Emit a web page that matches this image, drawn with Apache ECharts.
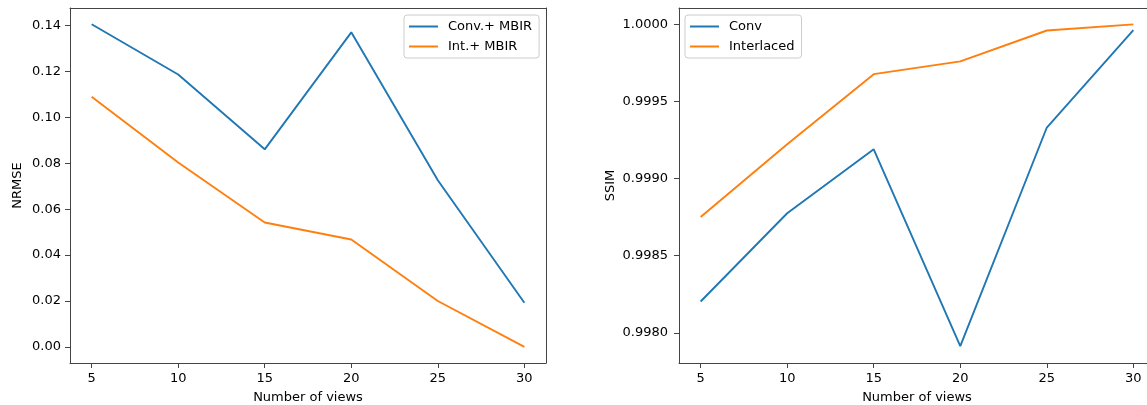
<!DOCTYPE html>
<html>
<head>
<meta charset="utf-8">
<script src="https://cdn.jsdelivr.net/npm/echarts@6/dist/echarts.min.js"></script>
<style>
html, body { margin: 0; padding: 0; background: #fff; }
#chart { width: 1147px; height: 405px; }
</style>
</head>
<body>
<div id="chart"></div>
<script>
// number of views on both x axes
var views = [5, 10, 15, 20, 25, 30];
var nrmseConv = [0.1406, 0.1187, 0.0861, 0.1371, 0.0726, 0.0192];
var nrmseInt = [0.1090, 0.0804, 0.0542, 0.0468, 0.0200, 0.0000];
var ssimConv = [0.998203, 0.998775, 0.999190, 0.997913, 0.999331, 0.999963];
var ssimInt = [0.998751, 0.999223, 0.999677, 0.999760, 0.999960, 1.000000];
var xTicks = [5, 10, 15, 20, 25, 30];
var nrmseTicks = [0.00, 0.02, 0.04, 0.06, 0.08, 0.10, 0.12, 0.14];
var ssimTicks = [0.9980, 0.9985, 0.9990, 0.9995, 1.0000];

function pairs(ys) {
    return views.map(function (v, i) { return [v, ys[i]]; });
}

var font = 'DejaVu Sans';
var axisCol = '#444';
var blue = '#1f77b4', orange = '#ff7f0e';

function xAx(idx) {
    return {
        type: 'value', gridIndex: idx, min: 3.75, max: 31.25, position: 'bottom',
        name: 'Number of views', nameLocation: 'middle', nameGap: 28,
        nameTextStyle: { fontFamily: font, fontSize: 13, color: '#000' },
        axisLine: { show: true, onZero: false, lineStyle: { color: axisCol, width: 1 } },
        axisTick: { show: true, length: 5, lineStyle: { color: axisCol, width: 1 }, customValues: xTicks },
        axisLabel: { customValues: xTicks, margin: 9, fontFamily: font, fontSize: 13, color: '#000' },
        splitLine: { show: false }
    };
}

function yAx(idx, min, max, ticks, digits, name, gap, margin) {
    return {
        type: 'value', gridIndex: idx, min: min, max: max, position: 'left',
        name: name, nameLocation: 'middle', nameGap: gap,
        nameTextStyle: { fontFamily: font, fontSize: 13, color: '#000' },
        axisLine: { show: true, onZero: false, lineStyle: { color: axisCol, width: 1 } },
        axisTick: { show: true, length: 5, lineStyle: { color: axisCol, width: 1 }, customValues: ticks },
        axisLabel: {
            customValues: ticks, margin: margin, fontFamily: font, fontSize: 13, color: '#000',
            formatter: function (v) { return v.toFixed(digits); }
        },
        splitLine: { show: false }
    };
}

// top / right spines only
function spine(idx, pos, min, max) {
    return {
        type: 'value', gridIndex: idx, position: pos, min: min, max: max,
        axisLine: { show: true, onZero: false, lineStyle: { color: axisCol, width: 1 } },
        axisTick: { show: false }, axisLabel: { show: false }, splitLine: { show: false }
    };
}

function legend(left, names) {
    return {
        data: names, left: left, top: 15, orient: 'vertical',
        icon: 'rect', itemWidth: 29, itemHeight: 2, itemGap: 7,
        padding: [5, 7, 5, 5],
        borderColor: '#ccc', borderWidth: 1, borderRadius: 3,
        backgroundColor: 'rgba(255,255,255,0.8)',
        textStyle: { fontFamily: font, fontSize: 13, color: '#000', lineHeight: 13, padding: [0, 0, 0, 5] }
    };
}

function line(name, xi, yi, data, color) {
    return {
        name: name, type: 'line', xAxisIndex: xi, yAxisIndex: yi,
        data: pairs(data), symbol: 'none', silent: true,
        lineStyle: { color: color, width: 1.9 }, itemStyle: { color: color }
    };
}

var chart = echarts.init(document.getElementById('chart'));
chart.setOption({
    animation: false,
    grid: [
        { left: 70, top: 8, width: 476, height: 355, outerBoundsMode: 'none', containLabel: false },
        { left: 679, top: 8, width: 476, height: 355, outerBoundsMode: 'none', containLabel: false }
    ],
    legend: [
        legend(404, ['Conv.+ MBIR', 'Int.+ MBIR']),
        legend(685, ['Conv', 'Interlaced'])
    ],
    xAxis: [xAx(0), xAx(1), spine(0, 'top', 3.75, 31.25), spine(1, 'top', 3.75, 31.25)],
    yAxis: [
        yAx(0, -0.00703, 0.1477, nrmseTicks, 2, 'NRMSE', 46, 9),
        yAx(1, 0.997804, 1.000106, ssimTicks, 4, 'SSIM', 62, 11),
        spine(0, 'right', 0, 1),
        spine(1, 'right', 0, 1)
    ],
    series: [
        line('Conv.+ MBIR', 0, 0, nrmseConv, blue),
        line('Int.+ MBIR', 0, 0, nrmseInt, orange),
        line('Conv', 1, 1, ssimConv, blue),
        line('Interlaced', 1, 1, ssimInt, orange)
    ]
});
</script>
</body>
</html>
